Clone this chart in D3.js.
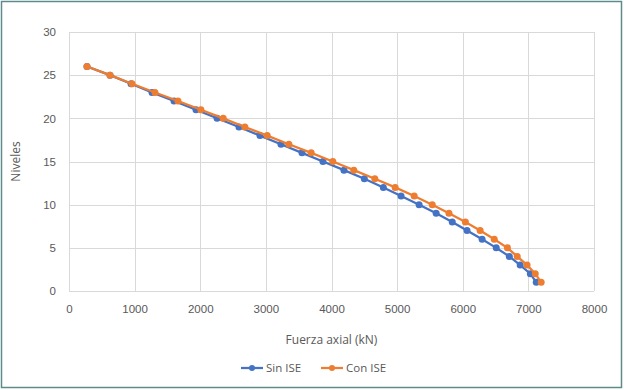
<!DOCTYPE html>
<html>
<head>
<meta charset="utf-8">
<script src="https://cdn.jsdelivr.net/npm/d3@7"></script>
<style>
  body { margin: 0; background: #fff; }
  svg { display: block; font-family: "Open Sans", "Liberation Sans", sans-serif; }
  .grid line { stroke: #d9d9d9; stroke-width: 1; }
  .tick text { fill: #595959; font-size: 11.5px; }
  .axisTitle { fill: #595959; font-size: 12px; }
  .legend text { fill: #595959; font-size: 11.5px; }
</style>
</head>
<body>
<div id="chart"></div>
<script>
'use strict';

// Data
const levels = [26, 25, 24, 23, 22, 21, 20, 19, 18, 17, 16, 15, 14, 13, 12, 11, 10, 9, 8, 7, 6, 5, 4, 3, 2, 1];
const sinISE = [274, 625, 945, 1265, 1600, 1935, 2256, 2590, 2910, 3230, 3550, 3870, 4190, 4500, 4790, 5060, 5335, 5595, 5840, 6065, 6295, 6510, 6710, 6875, 7030, 7120];
const conISE = [274, 625, 960, 1310, 1660, 2010, 2350, 2680, 3020, 3350, 3690, 4020, 4340, 4660, 4970, 5260, 5535, 5790, 6040, 6265, 6480, 6680, 6830, 6980, 7105, 7195];
const seriesNames = ['Sin ISE', 'Con ISE'];
const seriesColors = ['#4472c4', '#ed7d31'];
const xTicks = [0, 1000, 2000, 3000, 4000, 5000, 6000, 7000, 8000];
const yTicks = [0, 5, 10, 15, 20, 25, 30];

// Config svg
const w = 624, h = 390;
const margin = {top: 32, right: 30, bottom: 99, left: 69};
const gW = w - margin.left - margin.right;
const gH = h - margin.top - margin.bottom;

const svg = d3.select('#chart').append('svg')
    .attr('width', w)
    .attr('height', h);

// Outer border
svg.append('rect')
    .attr('x', 1.5).attr('y', 1.5)
    .attr('width', w - 4).attr('height', h - 4)
    .attr('fill', '#fff')
    .attr('stroke', '#5f8a8b')
    .attr('stroke-width', 1.5);

const g = svg.append('g')
    .attr('transform', `translate(${margin.left},${margin.top})`);

// Scales
const x = d3.scaleLinear().domain([0, 8000]).range([0, gW]);
const y = d3.scaleLinear().domain([0, 30]).range([gH, 0]);

// Grid
g.append('g').attr('class', 'grid')
    .selectAll('line.v').data(xTicks).join('line')
    .attr('x1', d => Math.round(x(d)) + 0.5).attr('x2', d => Math.round(x(d)) + 0.5)
    .attr('y1', 0).attr('y2', gH);
g.append('g').attr('class', 'grid')
    .selectAll('line.h').data(yTicks).join('line')
    .attr('x1', 0).attr('x2', gW)
    .attr('y1', d => Math.round(y(d)) + 0.5).attr('y2', d => Math.round(y(d)) + 0.5);

// Axes (labels only)
const xAxis = g.append('g')
    .attr('transform', `translate(0,${gH})`)
    .call(d3.axisBottom(x).tickValues(xTicks).tickFormat(d3.format('d')).tickSize(0).tickPadding(14));
xAxis.select('.domain').remove();

const yAxis = g.append('g')
    .call(d3.axisLeft(y).tickValues(yTicks).tickFormat(d3.format('d')).tickSize(0).tickPadding(13));
yAxis.select('.domain').remove();

// Axis titles
svg.append('text').attr('class', 'axisTitle')
    .attr('x', margin.left + gW / 2).attr('y', 344)
    .attr('text-anchor', 'middle')
    .text('Fuerza axial (kN)');
svg.append('text').attr('class', 'axisTitle')
    .attr('transform', `translate(20,${margin.top + gH / 2}) rotate(-90)`)
    .attr('text-anchor', 'middle')
    .text('Niveles');

// Series
const seriesData = [sinISE, conISE].map((vals, i) => ({
    name: seriesNames[i],
    color: seriesColors[i],
    points: vals.map((v, j) => ({x: v, y: levels[j]}))
}));

const line = d3.line().x(d => x(d.x)).y(d => y(d.y));

const sG = g.selectAll('.series').data(seriesData).join('g').attr('class', 'series');
sG.append('path')
    .attr('d', d => line(d.points))
    .attr('fill', 'none')
    .attr('stroke', d => d.color)
    .attr('stroke-width', 2.25);
sG.each(function(d) {
    d3.select(this).selectAll('circle').data(d.points).join('circle')
        .attr('cx', p => x(p.x))
        .attr('cy', p => y(p.y))
        .attr('r', 3.5)
        .attr('fill', d.color);
});

// Legend
const legend = svg.append('g').attr('class', 'legend')
    .attr('transform', 'translate(241,368)');
const items = legend.selectAll('g').data(seriesData).join('g')
    .attr('transform', (d, i) => `translate(${i * 80},0)`);
items.append('line')
    .attr('x1', 0).attr('x2', 22)
    .attr('stroke', d => d.color).attr('stroke-width', 2.25);
items.append('circle')
    .attr('cx', 11).attr('r', 3)
    .attr('fill', d => d.color);
items.append('text')
    .attr('x', 25).attr('dy', '0.35em')
    .text(d => d.name);
</script>
</body>
</html>
